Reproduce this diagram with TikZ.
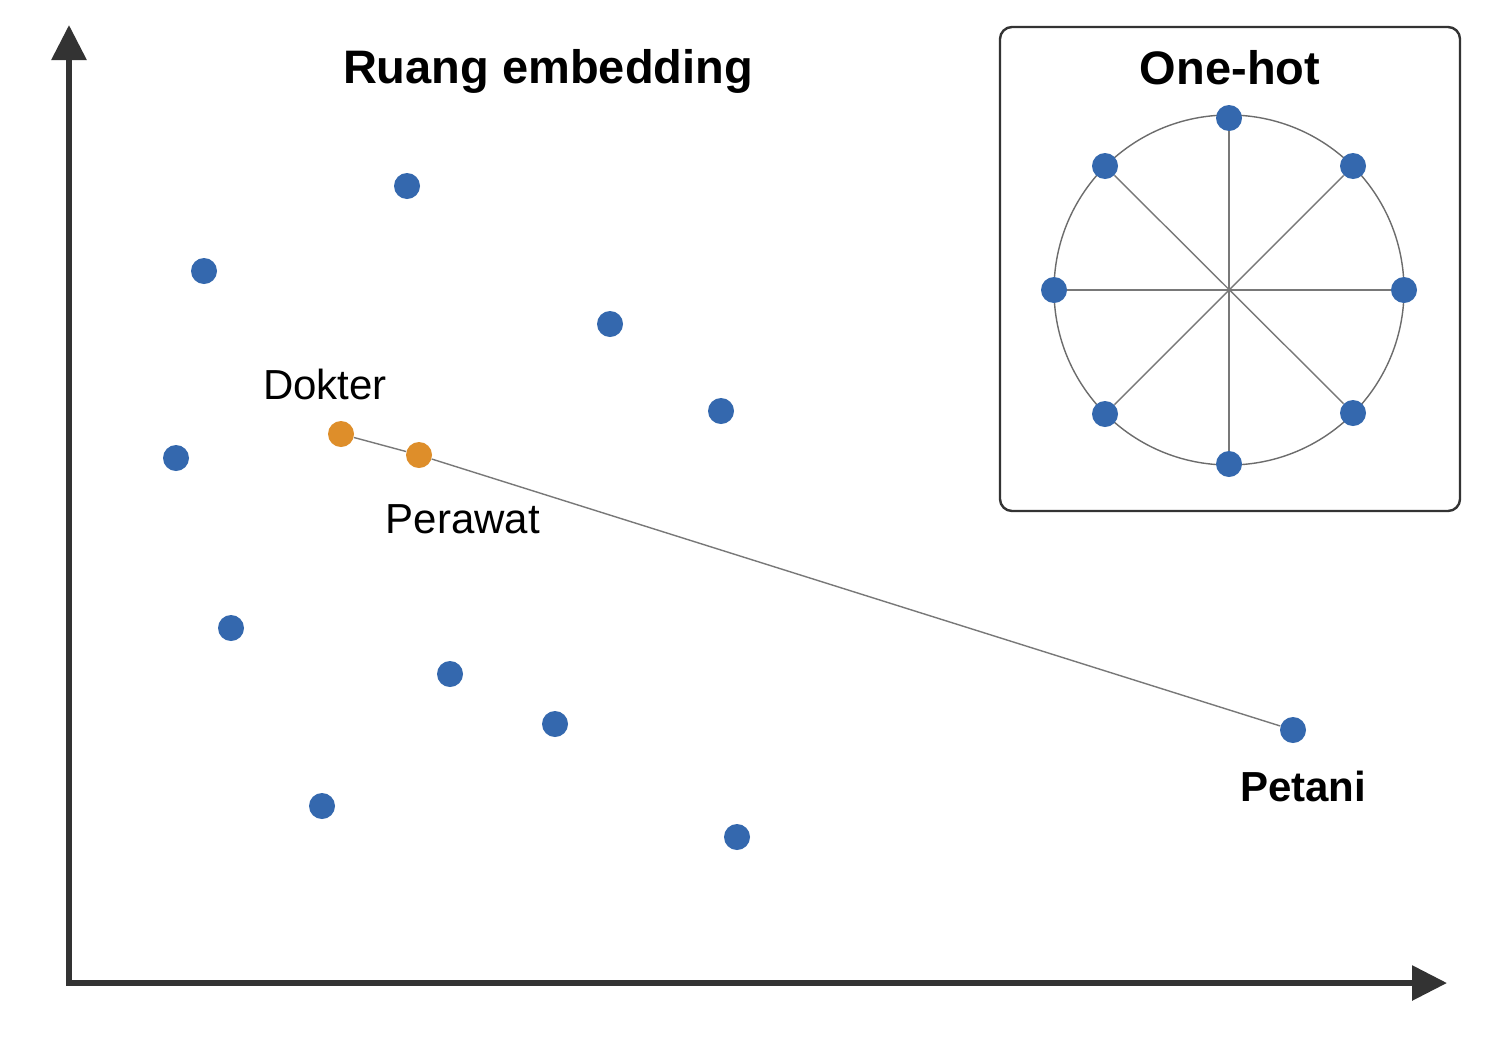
\documentclass[tikz,border=0pt]{standalone}
\usepackage{fontspec}
\setmainfont{Liberation Sans}
\usetikzlibrary{arrows.meta}
\definecolor{dotblue}{RGB}{52,104,174}
\definecolor{dotorange}{RGB}{222,142,42}
\definecolor{axisgray}{RGB}{51,51,51}
\definecolor{linegray}{RGB}{120,120,120}
\begin{document}
\begin{tikzpicture}[x=0.5pt,y=-0.5pt,
  bdot/.style={circle,fill=dotblue,inner sep=0pt,minimum size=13pt},
  odot/.style={circle,fill=dotorange,inner sep=0pt,minimum size=13pt},
  axisline/.style={line width=3pt,draw=axisgray,line join=miter,{Triangle[length=17.5pt,width=17pt]}-{Triangle[length=17.5pt,width=17pt]}},
  thin/.style={draw=linegray,line width=0.7pt},
  title/.style={font=\fontsize{23.5}{28}\selectfont\bfseries,anchor=base,inner sep=0pt},
  wlabel/.style={font=\fontsize{21}{25}\selectfont,anchor=base,inner sep=0pt}]
\useasboundingbox (0,0) rectangle (1491,1055);
\fill[white] (0,0) rectangle (1491,1055);
% axes
\coordinate (origin) at (69,983);
\coordinate (ytip) at (69,25);
\coordinate (xtip) at (1447,983);
\draw[axisline] (ytip) -- (origin) -- (xtip);
% titles
\node[title] (t1) at (548,83) {Ruang embedding};
% scatter dots
\node[bdot] (p1) at (407,186) {};
\node[bdot] (p2) at (204,271) {};
\node[bdot] (p3) at (610,324) {};
\node[bdot] (p4) at (721,411) {};
\node[bdot] (p5) at (176,458) {};
\node[bdot] (p6) at (231,628) {};
\node[bdot] (p7) at (450,674) {};
\node[bdot] (p8) at (555,724) {};
\node[bdot] (p9) at (322,806) {};
\node[bdot] (p10) at (737,837) {};
\node[odot] (dokter) at (341,434) {};
\node[odot] (perawat) at (419,455) {};
\node[bdot] (petani) at (1293,730) {};
\draw[thin] (dokter) -- (perawat) -- (petani);
\node[wlabel] (ldokter) at (325,399) {Dokter};
\node[wlabel] (lperawat) at (463,533) {Perawat};
\node[wlabel,font=\fontsize{21}{25}\selectfont\bfseries] (lpetani) at (1303,801) {Petani};
% one-hot box
\draw[draw=axisgray,line width=1.2pt,rounded corners=6pt] (1000,27) rectangle (1460,511);
\node[title] (t2) at (1230,84) {One-hot};
\coordinate (c) at (1229,290);
\draw[draw=linegray!90!black,line width=0.7pt] (c) circle[radius=175];
\node[bdot] (o0) at (1404,290) {};
\node[bdot] (o1) at (1353,166) {};
\node[bdot] (o2) at (1229,118) {};
\node[bdot] (o3) at (1105,166) {};
\node[bdot] (o4) at (1054,290) {};
\node[bdot] (o5) at (1105,414) {};
\node[bdot] (o6) at (1229,464) {};
\node[bdot] (o7) at (1353,413) {};
\draw[thin] (o0) -- (o4);
\draw[thin] (o1) -- (o5);
\draw[thin] (o2) -- (o6);
\draw[thin] (o3) -- (o7);
\end{tikzpicture}
\end{document}
